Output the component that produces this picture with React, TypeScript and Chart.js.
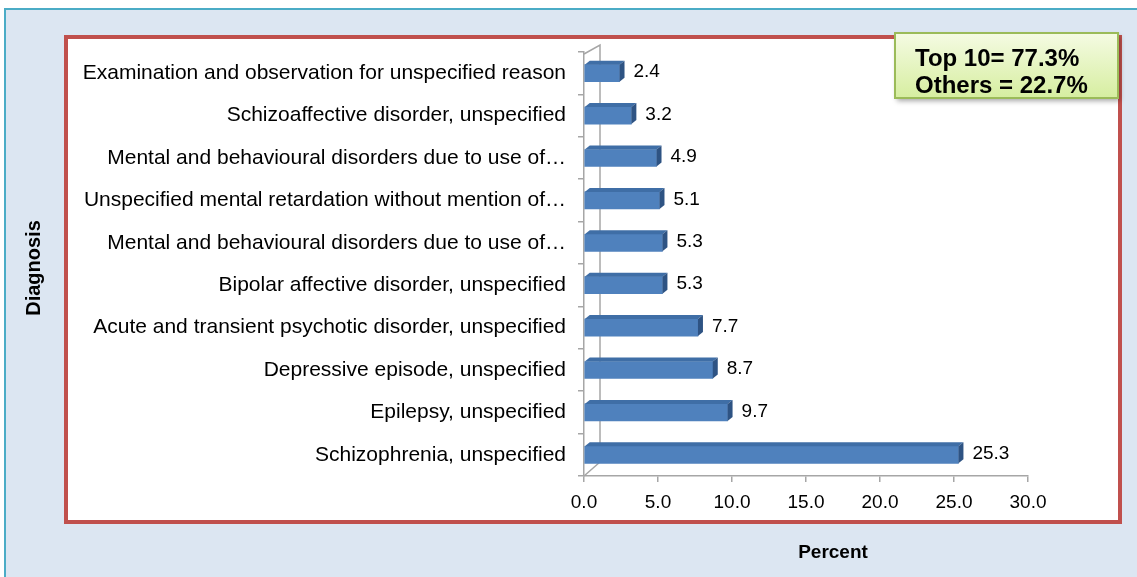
import React, { useEffect, useRef } from "react";
import { Chart, registerables } from "chart.js";

Chart.register(...registerables);

const categories = [
  "Examination and observation for unspecified reason",
  "Schizoaffective disorder, unspecified",
  "Mental and behavioural disorders due to use of…",
  "Unspecified mental retardation without mention of…",
  "Mental and behavioural disorders due to use of…",
  "Bipolar affective disorder, unspecified",
  "Acute and transient psychotic disorder, unspecified",
  "Depressive episode, unspecified",
  "Epilepsy, unspecified",
  "Schizophrenia, unspecified",
];
const percentValues = [2.4, 3.2, 4.9, 5.1, 5.3, 5.3, 7.7, 8.7, 9.7, 25.3];
const xTickMin = 0;
const xTickMax = 30;
const xTickStep = 5;
const boxLines = ["Top 10= 77.3%", "Others = 22.7%"];
const yTitle = "Diagnosis";
const xTitle = "Percent";

const FONT = "'Liberation Sans', Arial, Helvetica, sans-serif";
const DX = 5;
const DY = -4;

const framePlugin = {
  id: "frame",
  beforeDraw(chart: any) {
    const ctx = chart.ctx;
    const W = chart.width;
    const H = chart.height;
    ctx.save();
    ctx.fillStyle = "#ffffff";
    ctx.fillRect(0, 0, W, H);
    ctx.fillStyle = "#dce6f2";
    ctx.fillRect(4, 8, W - 4, H - 8);
    ctx.strokeStyle = "#4bacc6";
    ctx.lineWidth = 2;
    ctx.beginPath();
    ctx.moveTo(5, H);
    ctx.lineTo(5, 9);
    ctx.lineTo(W, 9);
    ctx.stroke();
    // red inner frame
    ctx.fillStyle = "#ffffff";
    ctx.fillRect(66, 37, 1054, 485);
    ctx.strokeStyle = "#c0504d";
    ctx.lineWidth = 4;
    ctx.strokeRect(66, 37, 1054, 485);
    ctx.restore();
  },
  beforeDatasetsDraw(chart: any) {
    const ctx = chart.ctx;
    const { left, top, bottom } = chart.chartArea;
    ctx.save();
    ctx.strokeStyle = "#a6a6a6";
    ctx.lineWidth = 1.5;
    ctx.beginPath();
    ctx.moveTo(left, top + 2);
    ctx.lineTo(left + 16, top - 7);
    ctx.lineTo(left + 16, bottom - 14);
    ctx.lineTo(left, bottom);
    ctx.stroke();
    ctx.restore();
  },
  afterDatasetsDraw(chart: any) {
    const ctx = chart.ctx;
    const meta = chart.getDatasetMeta(0);
    const data = chart.data.datasets[0].data;
    ctx.save();
    meta.data.forEach((bar: any, i: number) => {
      const p = bar.getProps(["x", "y", "base", "height"], true);
      const t = p.y - p.height / 2;
      const b = p.y + p.height / 2;
      // top face
      ctx.fillStyle = "#3f6ea6";
      ctx.beginPath();
      ctx.moveTo(p.base, t);
      ctx.lineTo(p.x, t);
      ctx.lineTo(p.x + DX, t + DY);
      ctx.lineTo(p.base + DX, t + DY);
      ctx.closePath();
      ctx.fill();
      // right face
      ctx.fillStyle = "#2e5383";
      ctx.beginPath();
      ctx.moveTo(p.x, t);
      ctx.lineTo(p.x + DX, t + DY);
      ctx.lineTo(p.x + DX, b + DY);
      ctx.lineTo(p.x, b);
      ctx.closePath();
      ctx.fill();
      // value label
      ctx.fillStyle = "#000000";
      ctx.font = `19px ${FONT}`;
      ctx.textAlign = "left";
      ctx.textBaseline = "middle";
      ctx.fillText(Number(data[i]).toFixed(1), p.x + DX + 9, p.y - 1);
    });
    ctx.restore();
  },
  afterDraw(chart: any) {
    const ctx = chart.ctx;
    ctx.save();
    // axis titles
    ctx.fillStyle = "#000000";
    ctx.font = `bold 19px ${FONT}`;
    ctx.textAlign = "center";
    ctx.textBaseline = "middle";
    ctx.fillText(xTitle, 833, 553);
    ctx.translate(34, 268);
    ctx.rotate(-Math.PI / 2);
    ctx.font = `bold 20px ${FONT}`;
    ctx.fillText(yTitle, 0, 0);
    ctx.restore();

    // text box
    ctx.save();
    const bx = 895, by = 33, bw = 223, bh = 65;
    ctx.shadowColor = "rgba(0,0,0,0.35)";
    ctx.shadowBlur = 5;
    ctx.shadowOffsetX = 2;
    ctx.shadowOffsetY = 3;
    const g = ctx.createLinearGradient(0, by, 0, by + bh);
    g.addColorStop(0, "#f5fbe3");
    g.addColorStop(1, "#d6eea0");
    ctx.fillStyle = g;
    ctx.fillRect(bx, by, bw, bh);
    ctx.shadowColor = "transparent";
    ctx.strokeStyle = "#9bbb59";
    ctx.lineWidth = 2;
    ctx.strokeRect(bx, by, bw, bh);
    ctx.fillStyle = "#000000";
    ctx.font = `bold 24px ${FONT}`;
    ctx.textAlign = "left";
    ctx.textBaseline = "middle";
    ctx.fillText(boxLines[0], 915, 59);
    ctx.fillText(boxLines[1], 915, 86);
    ctx.restore();
  },
};

export default function App() {
  const ref = useRef<HTMLCanvasElement>(null);
  useEffect(() => {
    if (!ref.current) return;
    const chart = new Chart(ref.current, {
      type: "bar",
      data: {
        labels: categories,
        datasets: [
          {
            data: percentValues,
            backgroundColor: "#4f81bd",
            borderWidth: 0,
            barThickness: 17,
          },
        ],
      },
      options: {
        indexAxis: "y",
        animation: false,
        responsive: false,
        devicePixelRatio: 1,
        layout: { padding: { left: 64, top: 52, right: 109, bottom: 0 } },
        plugins: {
          legend: { display: false },
          tooltip: { enabled: false },
        },
        scales: {
          x: {
            min: xTickMin,
            max: xTickMax,
            ticks: {
              stepSize: xTickStep,
              color: "#000000",
              font: { family: FONT, size: 19 },
              padding: 9,
              callback: (v: any) => Number(v).toFixed(1),
            },
            grid: {
              drawOnChartArea: false,
              tickLength: 6,
              color: "#a6a6a6",
              lineWidth: 1.5,
            },
            border: { color: "#a6a6a6", width: 1.5 },
            afterFit: (s: any) => {
              s.height = 101;
            },
          },
          y: {
            ticks: {
              color: "#000000",
              font: { family: FONT, size: 21 },
              padding: 12,
              autoSkip: false,
            },
            grid: {
              drawOnChartArea: false,
              tickLength: 6,
              color: "#a6a6a6",
              lineWidth: 1.5,
              offset: true,
            },
            border: { color: "#a6a6a6", width: 1.5 },
            afterFit: (s: any) => {
              s.width = 520;
            },
          },
        },
      },
      plugins: [framePlugin],
    });
    return () => chart.destroy();
  }, []);
  return (
    <div style={{ position: "fixed", left: 0, top: 0, width: 1137, height: 577 }}>
      <canvas ref={ref} width={1137} height={577} style={{ display: "block" }} />
    </div>
  );
}
